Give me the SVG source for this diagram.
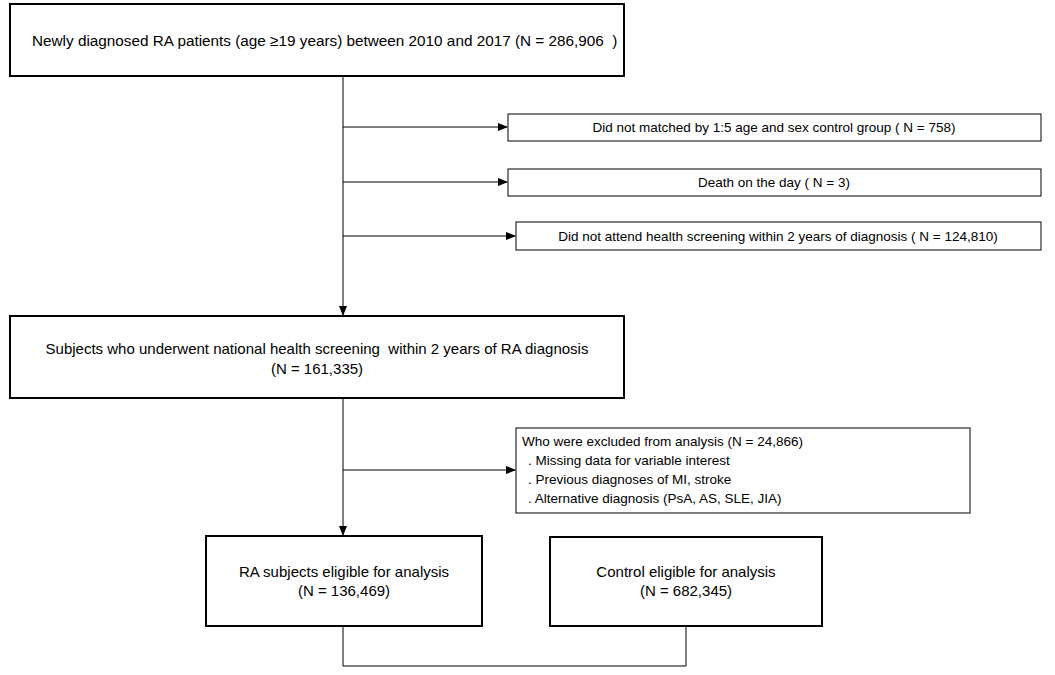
<svg xmlns="http://www.w3.org/2000/svg" width="1055" height="675" viewBox="0 0 1055 675">
<style>
text{font-family:"Liberation Sans",Arial,sans-serif;fill:#000}
.big{fill:#fff;stroke:#000;stroke-width:2}
.small{fill:#fff;stroke:#000;stroke-width:1}
.t1{font-size:15px}
.t2{font-size:13.5px}
.c{fill:none;stroke:#000;stroke-width:1}
</style>
<defs><marker id="a" markerWidth="10" markerHeight="8" refX="9" refY="4" orient="auto" markerUnits="userSpaceOnUse"><path d="M0,0 L10,4 L0,8 z" fill="#000"/></marker></defs>
<g id="connectors">
<path class="c" d="M343,76 V315" marker-end="url(#a)"/>
<path class="c" d="M343,127 H507" marker-end="url(#a)"/>
<path class="c" d="M343,182 H507" marker-end="url(#a)"/>
<path class="c" d="M343,236 H515" marker-end="url(#a)"/>
<path class="c" d="M343,398 V535" marker-end="url(#a)"/>
<path class="c" d="M343,470 H515" marker-end="url(#a)"/>
<path class="c" d="M343,626 V666 H686 V626"/>
</g>
<g id="n1"><rect class="big" x="10" y="4" width="614" height="72"/><text class="t1" x="32" y="46" xml:space="preserve" style="font-size:15.3px">Newly diagnosed RA patients (age ≥19 years) between 2010 and 2017 (N = 286,906  )</text></g>
<g id="n2"><rect class="small" x="508" y="114" width="533" height="27"/><text class="t2" x="774" y="132" text-anchor="middle">Did not matched by 1:5 age and sex control group ( N = 758)</text></g>
<g id="n3"><rect class="small" x="508" y="169" width="533" height="27"/><text class="t2" x="774" y="187" text-anchor="middle">Death on the day ( N = 3)</text></g>
<g id="n4"><rect class="small" x="516" y="222" width="525" height="28"/><text class="t2" x="778" y="241" text-anchor="middle">Did not attend health screening within 2 years of diagnosis ( N = 124,810)</text></g>
<g id="n5"><rect class="big" x="10" y="316" width="614" height="82"/><text class="t1" x="317" y="354" text-anchor="middle" xml:space="preserve">Subjects who underwent national health screening  within 2 years of RA diagnosis</text><text class="t1" x="317" y="374" text-anchor="middle">(N = 161,335)</text></g>
<g id="n6"><rect class="small" x="516" y="428" width="454" height="85"/><text class="t2" x="522" y="446">Who were excluded from analysis (N = 24,866)</text><text class="t2" x="528" y="465">. Missing data for variable interest</text><text class="t2" x="528" y="484">. Previous diagnoses of MI, stroke</text><text class="t2" x="528" y="503">. Alternative diagnosis (PsA, AS, SLE, JIA)</text></g>
<g id="n7"><rect class="big" x="206" y="536" width="276" height="90"/><text class="t1" x="344" y="577" text-anchor="middle">RA subjects eligible for analysis</text><text class="t1" x="344" y="596" text-anchor="middle">(N = 136,469)</text></g>
<g id="n8"><rect class="big" x="550" y="537" width="272" height="89"/><text class="t1" x="686" y="577" text-anchor="middle">Control eligible for analysis</text><text class="t1" x="686" y="596" text-anchor="middle">(N = 682,345)</text></g>
</svg>
